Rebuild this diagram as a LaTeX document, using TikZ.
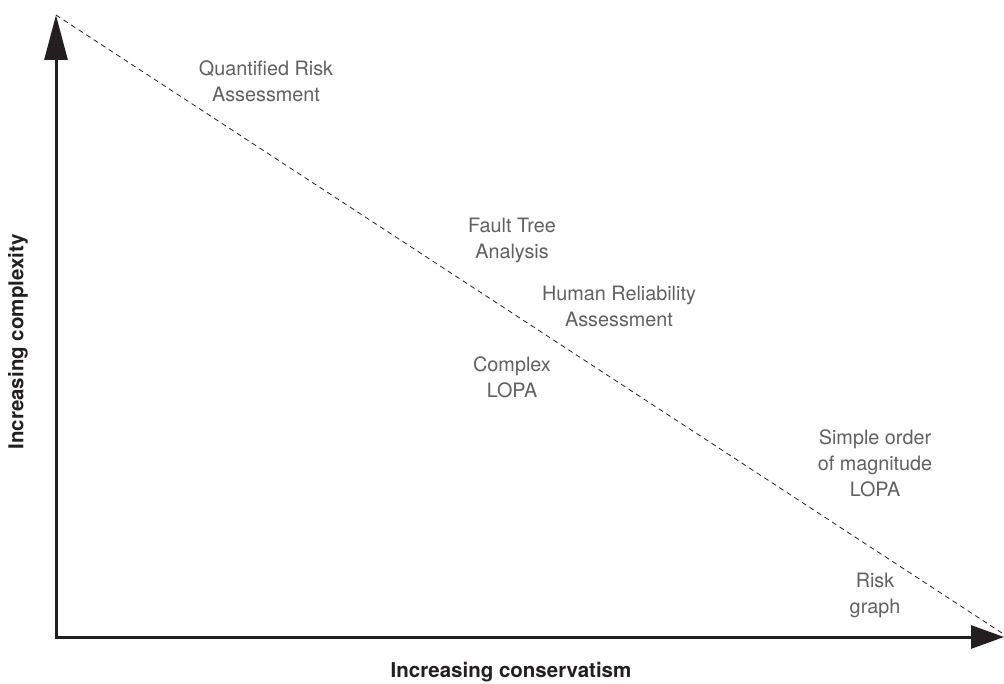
\documentclass[tikz,border=0pt]{standalone}
\usepackage{fontspec}
\setmainfont{TeX Gyre Heros}
\usetikzlibrary{arrows.meta}
\definecolor{labelgray}{HTML}{606060}
\definecolor{axisblack}{HTML}{231F20}
\begin{document}
\begin{tikzpicture}[x=1pt,y=-1pt,
    every node/.style={font=\fontsize{19.8}{26}\selectfont},
    method/.style={text=labelgray,align=center},
    axislabel/.style={text=axisblack,font=\fontsize{20.5}{24}\selectfont\bfseries}]
    \useasboundingbox (0,0) rectangle (1004,684);

    % Axes
    \coordinate (origin) at (56,637);
    \coordinate (ytip) at (56,15);
    \coordinate (xtip) at (1004,637);
    \draw[axisblack,line width=3pt,line join=miter,
        {Triangle[length=45pt,width=23pt]}-{Triangle[length=33pt,width=23pt]}]
        (ytip) -- (origin) -- (xtip);

    % Trade-off line
    \coordinate (dashend) at (1002,633);
    \draw[axisblack,line width=0.8pt,dash pattern=on 5pt off 4pt] (ytip) -- (dashend);

    % Methods
    \node[method] (qra) at (266,81) {Quantified Risk\\Assessment};
    \node[method] (fta) at (512,240) {Fault Tree\\Analysis};
    \node[method] (hra) at (619,306) {Human Reliability\\Assessment};
    \node[method] (clopa) at (512,377) {Complex\\LOPA};
    \node[method] (slopa) at (875,463) {Simple order\\of magnitude\\LOPA};
    \node[method] (rg) at (875,595) {Risk\\graph};

    % Axis labels
    \node[axislabel,rotate=90] (ylab) at (18,342) {Increasing complexity};
    \node[axislabel] (xlab) at (511,672) {Increasing conservatism};
\end{tikzpicture}
\end{document}
